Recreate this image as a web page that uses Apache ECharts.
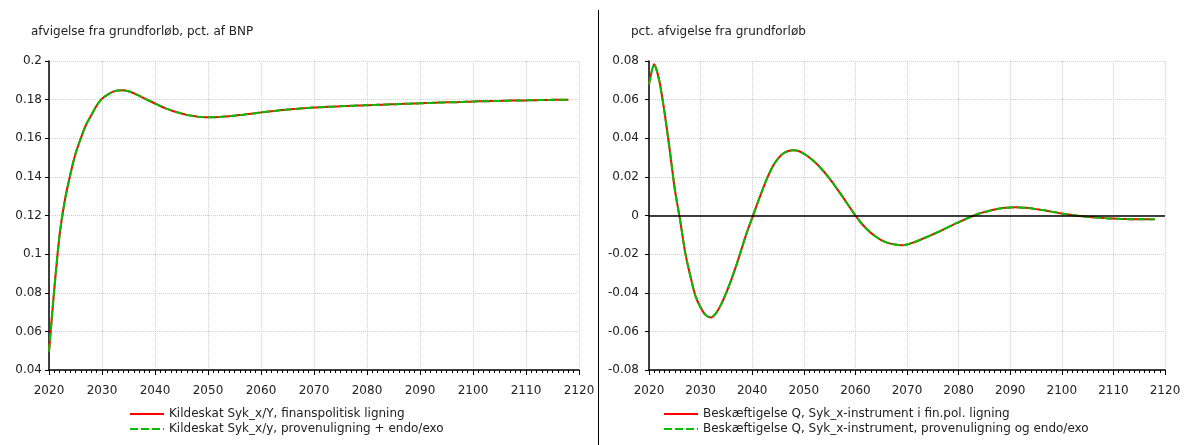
<!DOCTYPE html>
<html>
<head>
<meta charset="utf-8">
<script src="https://cdn.jsdelivr.net/npm/echarts@6/dist/echarts.min.js"></script>
<style>
  html, body { margin: 0; padding: 0; background: #fff; }
  #chart { width: 1185px; height: 445px; }
</style>
</head>
<body>
<div id="chart"></div>
<script>
// år 2020..2118
var years = [];
for (var y = 2020; y <= 2118; y++) years.push(y);

// venstre figur: kildeskat, afvigelse i pct. af BNP
var kildeskatFin = [
  0.0495, 0.082, 0.110, 0.128, 0.141, 0.152, 0.160, 0.167, 0.172, 0.177,
  0.1805, 0.1825, 0.184, 0.1847, 0.1848, 0.1843, 0.1833, 0.1820, 0.1806, 0.1793,
  0.1780, 0.1767, 0.1755, 0.1745, 0.1736, 0.1728, 0.1721, 0.1716, 0.1712, 0.1710,
  0.1709, 0.1709, 0.1710, 0.1712, 0.1714, 0.1717, 0.1720, 0.1723, 0.1727, 0.1730,
  0.1734, 0.1737, 0.1740, 0.1743, 0.1746, 0.1749, 0.1751, 0.1753, 0.1755, 0.1757,
  0.1759, 0.1760, 0.1762, 0.1763, 0.1764, 0.1766, 0.1767, 0.1768, 0.1769, 0.1770,
  0.1771, 0.1772, 0.1773, 0.1774, 0.1775, 0.1776, 0.1777, 0.1778, 0.1779, 0.1780,
  0.1781, 0.1782, 0.1783, 0.1784, 0.1785, 0.1786, 0.1786, 0.1787, 0.1788, 0.1789,
  0.1790, 0.1791, 0.1791, 0.1792, 0.1793, 0.1793, 0.1794, 0.1795, 0.1795, 0.1796,
  0.1796, 0.1797, 0.1797, 0.1798, 0.1798, 0.1799, 0.1799, 0.1800, 0.1800
];
// provenuligning + endo/exo ligger oven i finanspolitisk ligning
var kildeskatProv = kildeskatFin.slice();

// højre figur: beskæftigelse, pct. afvigelse
var beskFin = [
  0.0679, 0.0783, 0.0697, 0.0536, 0.0343, 0.0136, -0.0019, -0.0190, -0.0312, -0.0416,
  -0.0476, -0.0516, -0.0528, -0.0505, -0.0459, -0.0398, -0.0329, -0.0252, -0.0168, -0.0085,
  -0.0012, 0.0062, 0.0133, 0.0200, 0.0255, 0.0295, 0.0321, 0.0334, 0.0338, 0.0334,
  0.0320, 0.0302, 0.0280, 0.0254, 0.0224, 0.0191, 0.0155, 0.0117, 0.0078, 0.0039,
  0.0000, -0.0035, -0.0065, -0.0090, -0.0110, -0.0127, -0.0139, -0.0147, -0.0152, -0.0154,
  -0.0150, -0.0142, -0.0132, -0.0121, -0.0110, -0.0098, -0.0086, -0.0073, -0.0060, -0.0047,
  -0.0035, -0.0023, -0.0011, 0.0000, 0.0010, 0.0018, 0.0025, 0.0031, 0.0036, 0.0040,
  0.0042, 0.0043, 0.0042, 0.0040, 0.0037, 0.0033, 0.0029, 0.0025, 0.0020, 0.0015,
  0.0010, 0.0006, 0.0002, -0.0001, -0.0004, -0.0007, -0.0009, -0.0011, -0.0013, -0.0015,
  -0.0016, -0.0017, -0.0018, -0.0019, -0.0020, -0.0020, -0.0020, -0.0020, -0.0019
];
var beskProv = beskFin.slice();

var names = [
  "Kildeskat Syk_x/Y, finanspolitisk ligning",
  "Kildeskat Syk_x/y, provenuligning + endo/exo",
  "Beskæftigelse Q, Syk_x-instrument i fin.pol. ligning",
  "Beskæftigelse Q, Syk_x-instrument, provenuligning og endo/exo"
];

function pairs(vals) {
  return years.map(function (yr, i) { return [yr, vals[i]]; });
}

var font = "DejaVu Sans";
var txt = "#222";

function xAxisFor(idx) {
  return {
    type: "value", gridIndex: idx,
    min: 2020, max: 2120, interval: 10,
    axisLine: { show: true, onZero: false, lineStyle: { color: "#000", width: 1.5 } },
    axisTick: { show: true, length: 5, lineStyle: { color: "#000" } },
    minorTick: { show: true, splitNumber: 10, length: 3, lineStyle: { color: "#000" } },
    axisLabel: { color: txt, fontFamily: font, fontSize: 12, margin: 15,
      formatter: function (v) { return String(v); } },
    splitLine: { show: true, lineStyle: { color: "#cfcfcf", type: "dotted" } }
  };
}
function yAxisFor(idx, mn, mx, margin) {
  return {
    type: "value", gridIndex: idx,
    min: mn, max: mx, interval: 0.02,
    axisLine: { show: true, onZero: false, lineStyle: { color: "#000", width: 1.5 } },
    axisTick: { show: true, length: 4, lineStyle: { color: "#000" } },
    axisLabel: { color: txt, fontFamily: font, fontSize: 12, margin: margin },
    splitLine: { show: true, lineStyle: { color: "#cfcfcf", type: "dotted" } }
  };
}

var red = "#ff0000", green = "#00c000";

function legendFor(items, x) {
  return {
    data: items, orient: "vertical", left: x, top: 408, padding: 0,
    itemWidth: 34, itemHeight: 12, itemGap: 3,
    itemStyle: { opacity: 0 },
    textStyle: { fontFamily: font, fontSize: 12, color: txt }
  };
}

var chart = echarts.init(document.getElementById("chart"));
chart.setOption({
  animation: false,
  backgroundColor: "#fff",
  title: [
    { text: "afvigelse fra grundforløb, pct. af BNP", left: 31, top: 26, padding: 0,
      textStyle: { fontFamily: font, fontSize: 12, fontWeight: "normal", color: txt } },
    { text: "pct. afvigelse fra grundforløb", left: 631, top: 26, padding: 0,
      textStyle: { fontFamily: font, fontSize: 12, fontWeight: "normal", color: txt } }
  ],
  grid: [
    { left: 49, top: 61, width: 530, height: 309 },
    { left: 649, top: 61, width: 516, height: 309 }
  ],
  xAxis: [xAxisFor(0), xAxisFor(1)],
  yAxis: [yAxisFor(0, 0.04, 0.2, 7), yAxisFor(1, -0.08, 0.08, 10)],
  legend: [legendFor([names[0], names[1]], 129), legendFor([names[2], names[3]], 663)],
  graphic: [
    { type: "line", shape: { x1: 598.5, y1: 10, x2: 598.5, y2: 445 },
      style: { stroke: "#000", lineWidth: 1 } }
  ],
  series: [
    { name: names[0], type: "line", xAxisIndex: 0, yAxisIndex: 0, data: pairs(kildeskatFin),
      symbol: "none", smooth: 0.25, itemStyle: { color: red }, lineStyle: { color: red, width: 2 } },
    { name: names[1], type: "line", xAxisIndex: 0, yAxisIndex: 0, data: pairs(kildeskatProv),
      symbol: "none", smooth: 0.25, itemStyle: { color: green }, lineStyle: { color: green, width: 2, type: [8, 3] } },
    { name: names[2], type: "line", xAxisIndex: 1, yAxisIndex: 1, data: pairs(beskFin),
      symbol: "none", smooth: 0.25, itemStyle: { color: red }, lineStyle: { color: red, width: 2 },
      markLine: { silent: true, symbol: "none", label: { show: false },
        lineStyle: { color: "#000", width: 1.5, type: "solid" }, data: [{ yAxis: 0 }] } },
    { name: names[3], type: "line", xAxisIndex: 1, yAxisIndex: 1, data: pairs(beskProv),
      symbol: "none", smooth: 0.25, itemStyle: { color: green }, lineStyle: { color: green, width: 2, type: [8, 3] } }
  ]
});
</script>
</body>
</html>
